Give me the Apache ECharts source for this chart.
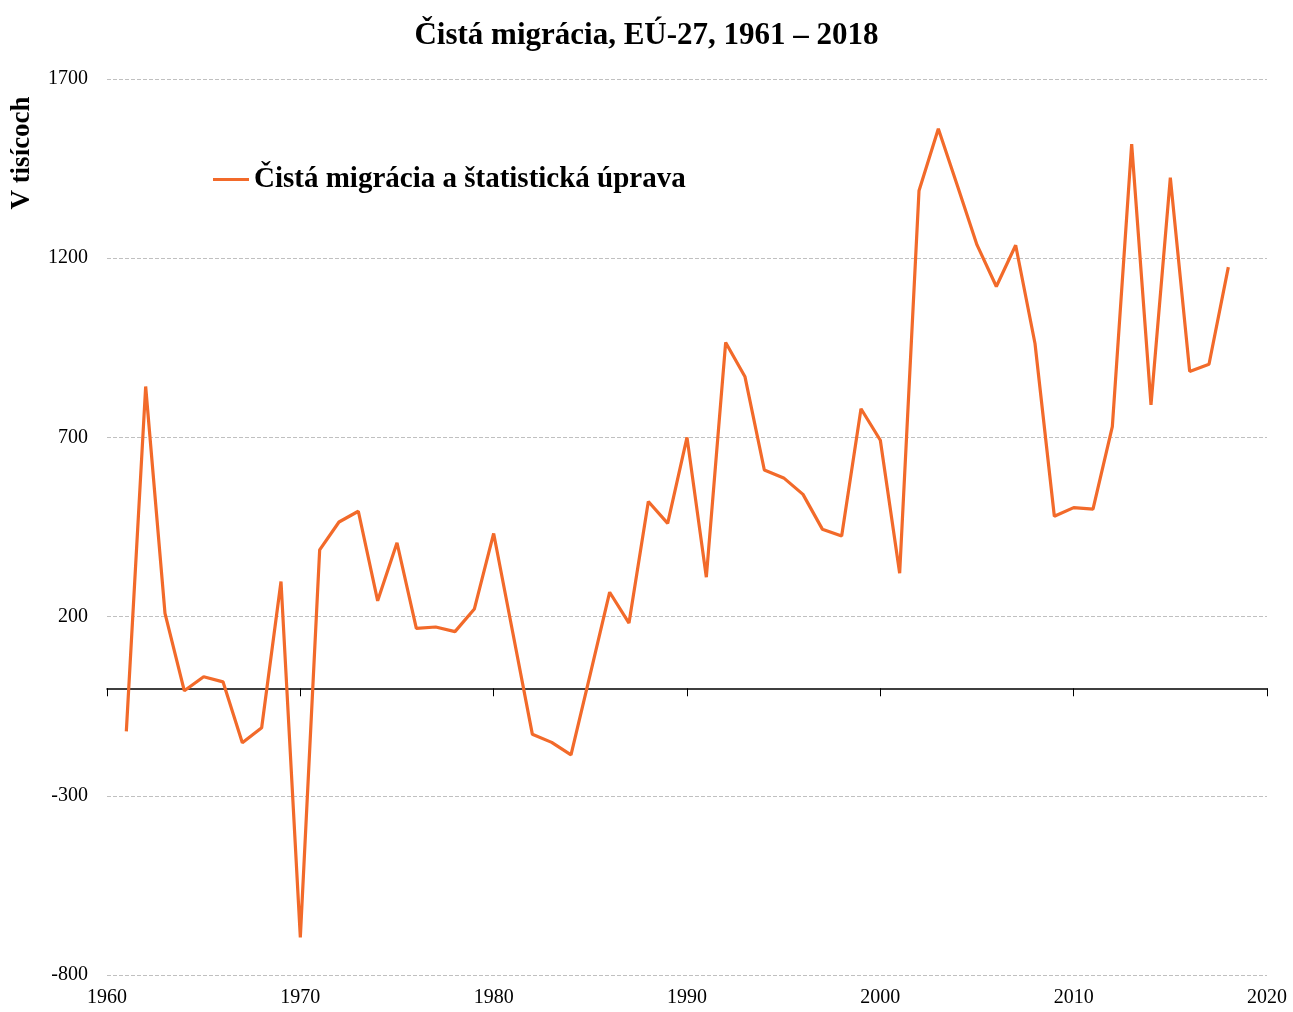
<!DOCTYPE html>
<html>
<head>
<meta charset="utf-8">
<script src="https://cdn.jsdelivr.net/npm/echarts@6/dist/echarts.min.js"></script>
<style>
html,body{margin:0;padding:0;background:#fff;}
#main{width:1293px;height:1012px;}
</style>
</head>
<body>
<div id="main"></div>
<script>
var years = [1961,1962,1963,1964,1965,1966,1967,1968,1969,1970,
    1971,1972,1973,1974,1975,1976,1977,1978,1979,1980,
    1981,1982,1983,1984,1985,1986,1987,1988,1989,1990,
    1991,1992,1993,1994,1995,1996,1997,1998,1999,2000,
    2001,2002,2003,2004,2005,2006,2007,2008,2009,2010,
    2011,2012,2013,2014,2015,2016,2017,2018];
var netMigration = [-120,842,209,-7,32,18,-152,-110,298,-695,
    386,464,494,244,406,167,171,158,221,432,
    152,-128,-151,-186,40,268,182,521,460,700,
    310,965,869,609,587,541,444,425,780,692,
    321,1388,1561,1400,1237,1121,1236,962,480,504,
    500,730,1518,791,1425,884,904,1175];
var yTicks = {min: -800, max: 1700, step: 500};
var xTicks = {min: 1960, max: 2020, step: 10};

var seriesData = [];
for (var i = 0; i < years.length; i++) {
    seriesData.push([years[i], netMigration[i]]);
}

var font = '"Liberation Serif", "Times New Roman", serif';
var plain = function (v) { return String(v); };
var chart = echarts.init(document.getElementById('main'));
var option = {
    backgroundColor: '#fff',
    animation: false,
    title: {
        text: 'Čistá migrácia, EÚ-27, 1961 – 2018',
        left: 'center',
        top: 15,
        textStyle: {fontFamily: font, fontSize: 31, fontWeight: 'bold', color: '#000'}
    },
    legend: {
        left: 208,
        top: 160,
        icon: 'rect',
        itemWidth: 36,
        itemHeight: 3,
        textStyle: {fontFamily: font, fontSize: 29, fontWeight: 'bold', color: '#000'},
        data: ['Čistá migrácia a štatistická úprava']
    },
    graphic: [{
        type: 'text',
        x: 22,
        y: 153,
        rotation: Math.PI / 2,
        style: {
            text: 'V tisícoch',
            font: 'bold 27px ' + font,
            fill: '#000',
            align: 'center',
            verticalAlign: 'middle'
        }
    }],
    grid: {left: 107, right: 26, top: 79, bottom: 37},
    xAxis: [{
        type: 'value',
        min: xTicks.min,
        max: xTicks.max,
        interval: xTicks.step,
        position: 'bottom',
        axisLine: {show: false, onZero: false},
        axisTick: {show: false},
        splitLine: {show: false},
        axisLabel: {fontFamily: font, fontSize: 20, color: '#000', margin: 13, formatter: plain}
    }, {
        type: 'value',
        min: xTicks.min,
        max: xTicks.max,
        interval: xTicks.step,
        position: 'top',
        axisLine: {show: true, onZero: true, lineStyle: {color: '#000', width: 1.5}},
        axisTick: {show: true, inside: true, length: 8, lineStyle: {color: '#000', width: 1}},
        splitLine: {show: false},
        axisLabel: {show: false}
    }],
    yAxis: {
        type: 'value',
        min: yTicks.min,
        max: yTicks.max,
        interval: yTicks.step,
        axisLine: {show: false},
        axisTick: {show: false},
        axisLabel: {fontFamily: font, fontSize: 20, color: '#000', margin: 19, formatter: plain},
        splitLine: {lineStyle: {type: [4, 2], color: '#c0c0c0', width: 1}}
    },
    series: [{
        name: 'Čistá migrácia a štatistická úprava',
        type: 'line',
        xAxisIndex: 0,
        data: seriesData,
        showSymbol: false,
        symbol: 'none',
        lineStyle: {color: '#f26a2a', width: 3.2},
        itemStyle: {color: '#f26a2a'}
    }]
};
chart.setOption(option);
</script>
</body>
</html>
